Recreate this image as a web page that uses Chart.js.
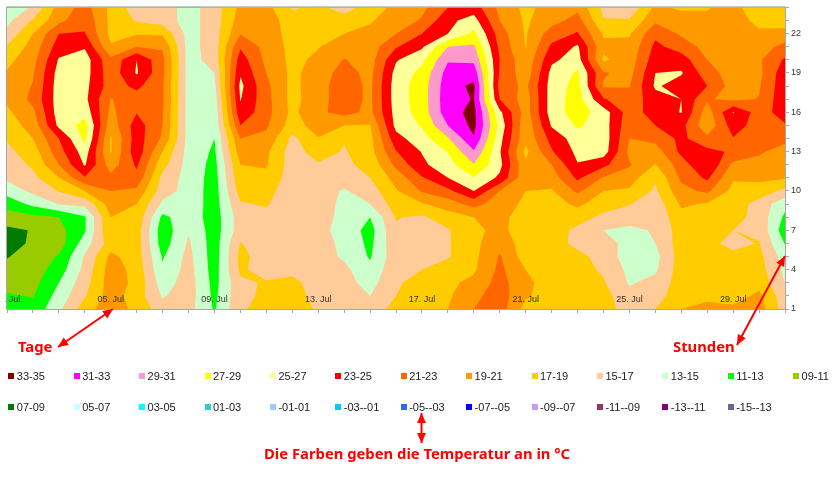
<!DOCTYPE html>
<html lang="de">
<head>
<meta charset="utf-8">
<title>Temperaturen Juli</title>
<script src="https://cdn.jsdelivr.net/npm/chart.js@4"></script>
<style>
  html, body { margin: 0; background: #fff; }
  #chart { position: absolute; left: 5px; top: 0; }
</style>
</head>
<body>
<canvas id="chart" width="830" height="482"></canvas>
<script>
// Hours as they run down the picture, each day array follows this order
const hours = [24,23,22,21,20,19,18,17,16,15,14,13,12,11,10,9,8,7,6,5,4,3,2,1];
const hourTicks = [1,4,7,10,13,16,19,22];
const dayTicks = [1,5,9,13,17,21,25,29];
const dayLabels = ["01. Jul","05. Jul","09. Jul","13. Jul","17. Jul","21. Jul","25. Jul","29. Jul"];

const day01 = [13.8,14.5,15.5,17.2,18.4,19.2,20,19.4,18.6,18,17.2,16.5,16,15.4,13.8,11.8,10,8.6,8,8.9,9.5,10.3,11.2,11.8];
const day02 = [15.2,17.2,19,19.8,20.3,20.8,21.1,21.5,20.6,19.8,19,18,17.3,16.5,15.5,13.5,10.5,9.1,9.4,9.7,10,10.3,10.9,11.6];
const day03 = [19.8,20.4,23,24,25.2,25.8,26,26,26,25.5,23,22.2,21,19,17.1,15.1,11,10.3,10,11.2,12,13,13.8,14.6];
const day04 = [21.8,22.5,23.1,24.8,26,25.9,25.6,25.5,26.3,27.8,27.5,26,25.2,22.8,19,15.5,12.8,12.8,14,15.2,15.6,16.2,16.8,18];
const day05 = [18.5,18.5,18.5,19.2,21.5,21.8,22,20.9,20.5,19.8,18.8,18.8,20,21.6,21,20,19,19,18,19.5,20,20,20,20.5];
const day06 = [15.8,16.8,18.8,21,25,25.2,23.5,22,22.9,24,24,24.3,23.3,22.5,20.5,19,18.4,18,18,18,18.3,18.5,18,18.3];
const day07 = [16,16,18.7,20.8,21.5,21.5,21.2,21.3,21.1,21,20.7,18.9,17.7,16.4,16,14.6,12.5,11.8,12,12.8,13.3,14,14.8,16];
const day08 = [14.2,14.2,14.2,14.2,14.2,14.2,14.2,14.2,14.2,14.2,14.2,14.2,14.2,14.2,14.2,14.2,14.2,14.8,15.3,15.6,15.8,16,16,15.7];
const day09 = [16,16,16,16,15.8,15,14.5,14,13.7,13.5,13,12.7,12.4,12.2,12.1,12.1,12,12,12,12,12.1,12.3,12.5,12.8];
const day10 = [19.5,20,20.9,22.8,24,24.8,25.5,25.1,24.5,23,21,20,19,18.5,17.8,16.8,16,16,17.1,17.6,17.4,16.6,16.6,16.7];
const day11 = [19.7,20,20.1,20.3,20.5,21,21.5,21.7,21.7,21.3,20.5,19.4,19.2,18.5,17.8,17.2,16.4,16.1,16,16,16,17.2,17.3,17.8];
const day12 = [16.7,18,18.2,18.4,18.5,18.5,18.4,18.3,18.5,18.1,16.5,16,16,16,15.6,15.5,15.5,15.6,15.6,16,16.6,17.4,17.5,17.8];
const day13 = [17.5,18,18.2,18.9,19.4,20,20.3,20.3,20.6,19.9,18.9,18,16.8,16.3,15.9,16,15.9,15.5,15.7,15.9,16.1,16.3,16.6,16.8];
const day14 = [16,18,19,20,21.1,21.8,22,22,21.7,19,17.2,16.8,16.6,16,14.8,14.5,14.4,14.4,14.6,14.7,15.5,15.8,16,16];
const day15 = [18,18.8,19.5,20,20.1,20.4,20.6,20.6,20.5,18.9,18.4,18.3,17.6,17,16,15,13,12.2,12.5,12.8,13.5,14.2,15,16];
const day16 = [19.5,20,21,22.8,24.8,25.7,26,26,25.8,25.6,24.3,22.9,21.5,19.8,18.8,18,17.1,16.8,16.5,16.3,16.5,16.8,17,17.6];
const day17 = [20.5,21.2,23,24.7,26.5,27.6,28,28,27.9,27.2,26.2,25.1,24.6,22.8,21.2,18.8,16.7,16.4,16.3,15.8,17,17.6,18,18.5];
const day18 = [23,24.5,25,29,30.8,31.8,32.2,32.3,32.2,31,28.8,27.1,26.2,25,22.5,20,18,16.8,16.8,16.8,18,18.6,18.7,19];
const day19 = [24,25.8,27.5,29.3,30.6,32.2,33.4,33.1,33.6,33.6,32.8,30.8,28.9,26.9,25,21.7,19,18.6,18.5,18.5,18.7,19.5,20.5,21];
const day20 = [20.5,21,22,22.5,23,22.8,22.2,23,25.5,26.4,25.7,25.2,25.6,24.6,21,20,19.6,19.5,20.3,21.2,21.5,21.8,22,22];
const day21 = [18.5,18.7,18.8,18.9,19.5,19.8,20.5,20,20,19.5,19.5,18.5,19.3,19.5,19,18.6,18,18,18,18,19,19.5,19.3,18.3];
const day22 = [19.8,20.2,22,23.4,24.6,25.6,25.9,26,26,25.2,23.7,22.8,21,20,18.8,18.2,18,18,18,18,18,18,18,18];
const day23 = [20.5,21.8,23.2,25.3,25.9,27.3,27.7,27.9,28,27.3,26,25.5,24.9,23.4,21.4,19.4,17.9,16.5,16.4,17.6,17.8,18,18,18];
const day24 = [16.5,17.1,18.8,19.4,18.7,21.2,20.8,23.2,26,26,26.2,26,23.5,20.8,19,18,16.5,15,16,16.2,16.7,17.2,17.7,18];
const day25 = [15.5,17.2,18.8,19.5,19.9,20.3,20.9,21.7,22,21.6,21,20.5,21.2,20,18.7,17.1,16,14.5,14.2,14,14.5,14.8,15.7,16];
const day26 = [19.4,20.6,22.5,23.5,24.1,25,25.3,24.2,23.9,23,21.6,20,18.9,17.2,16.7,15.8,15.5,15.2,15,14.3,14.7,15.6,16.2,17];
const day27 = [18.7,19.9,20.7,22.1,24,25.2,24,25,25.1,23.7,23.5,23.5,22,21.4,20.4,19.3,18.4,18,18,18,18,18,18.2,19];
const day28 = [18.9,19.3,20,20.3,21,21.9,23,21.2,20,19.5,21.5,23.6,25,23.4,21.4,18.8,18,17.7,17.6,18,18,18,18.6,19.5];
const day29 = [19.5,20,20,20,20.1,20,20.1,20.5,25.1,24,22.9,22.7,20.5,19.2,18.4,18,17.7,17,16.4,17.5,18,18,18,19.5];
const day30 = [18,18.4,19.4,20,20.7,20.5,20.8,21.1,22,22,21.5,21.2,20.5,19.5,18,16.3,16.3,16.6,17.1,17.6,17.9,18.3,19.5,20];
const day31 = [17.7,18,19.7,21.7,23.3,24.3,24.4,24.5,24,22.8,21.4,20.4,19.8,19.2,16.5,13.6,12.6,11.8,12.9,14,14.5,15,15.7,16];
const days = [day01,day02,day03,day04,day05,day06,day07,day08,day09,day10,day11,day12,day13,day14,day15,day16,
  day17,day18,day19,day20,day21,day22,day23,day24,day25,day26,day27,day28,day29,day30,day31];

// Legend, warmest first. Lower edge of each band is in bandFrom
const bandNames = ["33-35","31-33","29-31","27-29","25-27","23-25","21-23","19-21","17-19","15-17","13-15","11-13","09-11",
  "07-09","05-07","03-05","01-03","-01-01","-03--01","-05--03","-07--05","-09--07","-11--09","-13--11","-15--13"];
const bandFrom = [33,31,29,27,25,23,21,19,17,15,13,11,9,7,5,3,1,-1,-3,-5,-7,-9,-11,-13,-15];
const bandColors = ["#800000","#ff00ff","#ff99cc","#ffff00","#ffff99","#ff0000","#ff6600","#ff9900","#ffcc00","#ffcc99","#ccffcc","#00ff00","#99cc00",
  "#007a00","#ccffff","#00ffff","#33cccc","#99ccff","#00ccff","#3366ff","#0000ff","#cc99ff","#993366","#800080","#666699"];

// Keep the part of a polygon whose value is above the level
function clipAbove(poly, level) {
  const out = [];
  poly.forEach((p, i) => {
    const q = poly[(i + 1) % poly.length];
    if (p.v >= level) out.push(p);
    if ((p.v >= level) !== (q.v >= level)) {
      const t = (level - p.v) / (q.v - p.v);
      out.push({ x: p.x + (q.x - p.x) * t, y: p.y + (q.y - p.y) * t, v: level });
    }
  });
  return out;
}

// Paints the bands from cold to warm, each one on top of the last
const contourPlugin = {
  id: "contour",
  beforeDatasetsDraw(chart) {
    const { ctx, chartArea, scales } = chart;
    const grid = chart.data.datasets[0].data;
    const rows = hours.length;
    const at = (d, h) => grid[d * rows + h];
    ctx.save();
    ctx.beginPath();
    ctx.rect(chartArea.left, chartArea.top, chartArea.width, chartArea.height);
    ctx.clip();
    for (let b = bandFrom.length - 1; b >= 0; b--) {
      ctx.beginPath();
      for (let d = 0; d < days.length - 1; d++) {
        for (let h = 0; h < rows - 1; h++) {
          const cell = [at(d, h), at(d + 1, h), at(d + 1, h + 1), at(d, h + 1)];
          const poly = clipAbove(cell, bandFrom[b]);
          poly.forEach((p, i) => {
            const px = scales.x.getPixelForValue(p.x);
            const py = scales.y.getPixelForValue(p.y);
            if (i === 0) ctx.moveTo(px, py); else ctx.lineTo(px, py);
          });
          if (poly.length) ctx.closePath();
        }
      }
      ctx.fillStyle = bandColors[b];
      ctx.fill();
    }
    ctx.restore();
    ctx.strokeStyle = "#a8a8a8";
    ctx.lineWidth = 1;
    ctx.strokeRect(chartArea.left - 0.5, chartArea.top - 0.5, chartArea.width + 1, chartArea.height + 1);
  }
};

function arrowHead(ctx, x, y, fromX, fromY) {
  const a = Math.atan2(y - fromY, x - fromX);
  ctx.beginPath();
  ctx.moveTo(x, y);
  ctx.lineTo(x - 11 * Math.cos(a - 0.42), y - 11 * Math.sin(a - 0.42));
  ctx.lineTo(x - 11 * Math.cos(a + 0.42), y - 11 * Math.sin(a + 0.42));
  ctx.closePath();
  ctx.fill();
}

function doubleArrow(ctx, x1, y1, x2, y2) {
  ctx.beginPath();
  ctx.moveTo(x1, y1);
  ctx.lineTo(x2, y2);
  ctx.stroke();
  arrowHead(ctx, x1, y1, x2, y2);
  arrowHead(ctx, x2, y2, x1, y1);
}

// Legend rows and the red notes, in page coordinates
const notesPlugin = {
  id: "notes",
  afterDraw(chart) {
    const ctx = chart.ctx;
    ctx.save();
    ctx.translate(-5, 0);
    ctx.font = '11px "Liberation Sans"';
    ctx.textBaseline = "middle";
    ctx.textAlign = "left";
    bandNames.forEach((name, i) => {
      const col = i < 13 ? i : i - 13;
      const x = 8.3 + col * 65.4;
      const y = i < 13 ? 376 : 407;
      ctx.fillStyle = bandColors[i];
      ctx.fillRect(Math.round(x), y - 3, 6, 6);
      ctx.fillStyle = "#222";
      ctx.fillText(name, x + 8.5, y + 0.5);
    });

    ctx.strokeStyle = "#ff0000";
    ctx.fillStyle = "#ff0000";
    ctx.lineWidth = 2;
    doubleArrow(ctx, 58, 347, 113, 309);
    doubleArrow(ctx, 737, 345, 785, 256);
    doubleArrow(ctx, 421.5, 413, 421.5, 443);

    ctx.font = 'bold 14.8px "Noto Sans"';
    ctx.fillStyle = "#ff0000";
    ctx.fillText("Tage", 18, 348);
    ctx.fillText("Stunden", 673, 348);
    ctx.fillText("Die Farben geben die Temperatur an in °C", 264, 455);
    ctx.restore();
  }
};

const gridPoints = [];
days.forEach((values, d) => {
  values.forEach((v, h) => gridPoints.push({ x: d + 1, y: hours[h], v: v }));
});

new Chart(document.getElementById("chart"), {
  type: "scatter",
  data: { datasets: [{ label: "Temperatur", data: gridPoints, pointRadius: 0, pointHitRadius: 0 }] },
  plugins: [contourPlugin, notesPlugin],
  options: {
    responsive: false,
    animation: false,
    layout: { padding: { left: 2, top: 7, right: 0, bottom: 165 } },
    plugins: { legend: { display: false }, tooltip: { enabled: false } },
    scales: {
      x: {
        type: "linear",
        min: 1,
        max: 31,
        afterFit(scale) {
          scale.height = 8;
          scale.paddingLeft = 0;
          scale.paddingRight = 0;
        },
        afterBuildTicks(scale) { scale.ticks = days.map((v, i) => ({ value: i + 1 })); },
        border: { display: false },
        grid: { drawOnChartArea: false, tickLength: 4, color: "#a8a8a8" },
        ticks: {
          z: 1,
          mirror: true, // keeps the labels inside the plot, the scale would clip them otherwise
          autoSkip: false,
          maxRotation: 0,
          padding: 4.5,
          color: "#333",
          font: { family: "Liberation Sans", size: 9 },
          callback(value) {
            const i = dayTicks.indexOf(value);
            return i >= 0 ? dayLabels[i] : "";
          }
        }
      },
      y: {
        type: "linear",
        position: "right",
        min: 1,
        max: 24,
        afterFit(scale) { scale.width = 50; },
        afterBuildTicks(scale) { scale.ticks = hours.map((h) => ({ value: h })); },
        border: { display: false },
        grid: { drawOnChartArea: false, tickLength: 4, color: "#a8a8a8" },
        ticks: {
          autoSkip: false,
          padding: 2,
          color: "#333",
          font: { family: "Liberation Sans", size: 9 },
          callback(value) { return hourTicks.includes(value) ? String(value) : ""; }
        }
      }
    }
  }
});
</script>
</body>
</html>
